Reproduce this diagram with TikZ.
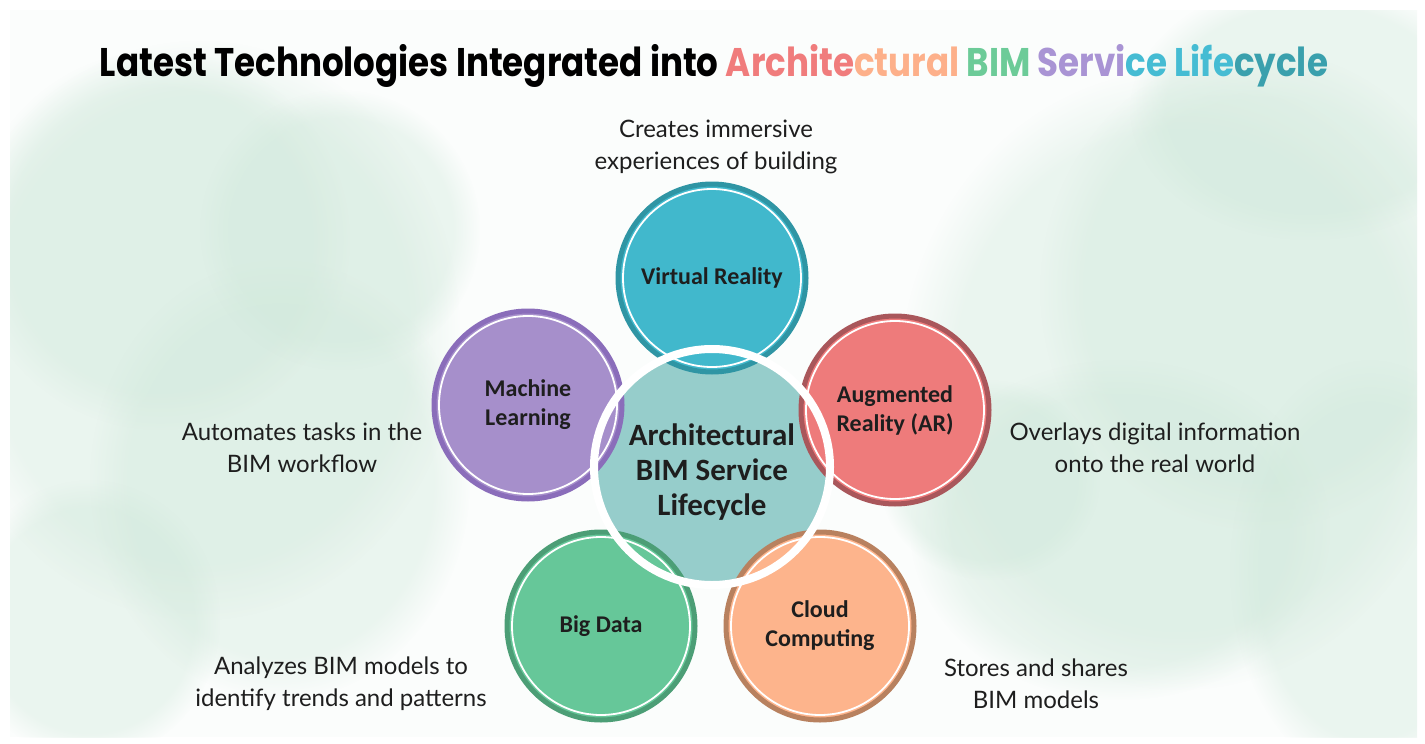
\documentclass[tikz,border=0pt]{standalone}
\usepackage{fontspec}
\usetikzlibrary{fadings}
\setmainfont{Lato}
\newfontfamily\titlefont{Poppins}
\newfontfamily\labelfont{Carlito}
\definecolor{bgbase}{HTML}{FBFDFC}
\definecolor{blob}{HTML}{CFE8DA}
\definecolor{vrfill}{HTML}{41B8CC}
\definecolor{vrrim}{HTML}{2F95A4}
\definecolor{mlfill}{HTML}{A68FCB}
\definecolor{mlrim}{HTML}{8A6DBA}
\definecolor{arfill}{HTML}{EE7B7B}
\definecolor{arrim}{HTML}{A9575B}
\definecolor{bdfill}{HTML}{66C799}
\definecolor{bdrim}{HTML}{4C9E76}
\definecolor{ccfill}{HTML}{FDB48C}
\definecolor{ccrim}{HTML}{B8815F}
\definecolor{corefill}{HTML}{96CDCB}
\definecolor{tred}{HTML}{F07C7C}
\definecolor{torange}{HTML}{FDB08A}
\definecolor{tgreen}{HTML}{6CCB98}
\definecolor{tpurple}{HTML}{A994D4}
\definecolor{tcyan}{HTML}{45BCD3}
\definecolor{tteal}{HTML}{3AA0AD}
\definecolor{txt}{HTML}{1E1E1E}
\tikzset{
  tech/.style={circle, minimum size=188pt, inner sep=0pt, line width=5pt, align=center,
    font=\labelfont\bfseries\fontsize{24}{29}\selectfont, text=txt},
  hilite/.style={draw=white, line width=1.8pt},
  core/.style={circle, minimum size=236pt, inner sep=0pt, draw=white, line width=8pt},
  corelabel/.style={align=center, font=\labelfont\bfseries\fontsize{31}{35}\selectfont, text=txt},
  desc/.style={align=center, font=\fontsize{24}{32}\selectfont, text=txt},
  blobstyle/.style={fill=blob, opacity=0.38, path fading=circle with fuzzy edge 20 percent}
}
\begin{document}
\begin{tikzpicture}[x=1pt,y=-1pt]
\useasboundingbox (0,0) rectangle (1425,744);
\fill[white] (0,0) rectangle (1425,744);
\fill[bgbase] (10,10) rectangle (1417,737);
% watercolour wash
\begin{scope}
\clip (10,10) rectangle (1417,737);
\fill[blobstyle] (200,330) ellipse [x radius=260pt, y radius=290pt];
\fill[blobstyle] (160,240) ellipse [x radius=190pt, y radius=190pt];
\fill[blobstyle] (280,480) ellipse [x radius=190pt, y radius=220pt];
\fill[blobstyle] (90,620) ellipse [x radius=130pt, y radius=140pt];
\fill[blobstyle] (340,230) ellipse [x radius=140pt, y radius=140pt];
\fill[blobstyle] (1180,380) ellipse [x radius=280pt, y radius=310pt];
\fill[blobstyle] (1260,290) ellipse [x radius=220pt, y radius=240pt];
\fill[blobstyle] (1120,530) ellipse [x radius=210pt, y radius=170pt];
\fill[blobstyle] (1370,570) ellipse [x radius=140pt, y radius=210pt];
\fill[blobstyle] (1310,110) ellipse [x radius=180pt, y radius=130pt];
\fill[blobstyle] (990,480) ellipse [x radius=110pt, y radius=100pt];
\end{scope}
% title
\node[anchor=base, inner sep=0pt] (title) at (714,76) {\resizebox{1228pt}{32pt}{\titlefont\bfseries Latest Technologies Integrated into
  \textcolor{tred}{Archite}\textcolor{torange}{ctural} \textcolor{tgreen}{BIM} \textcolor{tpurple}{Servi}\textcolor{tcyan}{ce Life}\textcolor{tteal}{cycle}}};
% core fill
\fill[corefill] (712,467) circle [radius=118pt];
% technology circles
\node[tech, fill=vrfill, draw=vrrim] (vr) at (712,278) {Virtual Reality};
\draw[hilite] (vr.center) circle [radius=89pt];
\node[tech, fill=mlfill, draw=mlrim] (ml) at (528,405) {Machine\\Learning};
\draw[hilite] (ml.center) circle [radius=89pt];
\node[tech, fill=arfill, draw=arrim] (ar) at (895,410) {Augmented\\Reality (AR)};
\draw[hilite] (ar.center) circle [radius=89pt];
\node[tech, fill=bdfill, draw=bdrim] (bd) at (601,626) {Big Data};
\draw[hilite] (bd.center) circle [radius=89pt];
\node[tech, fill=ccfill, draw=ccrim] (cc) at (820,626) {Cloud\\Computing};
\draw[hilite] (cc.center) circle [radius=89pt];
% core ring and label
\node[core] (core) at (712,467) {};
\node[corelabel] (coretext) at (712,472) {Architectural\\BIM Service\\Lifecycle};
% descriptions
\node[desc] (dvr) at (716,147) {Creates immersive\\experiences of building};
\node[desc] (dml) at (302,448) {Automates tasks in the\\BIM workflow};
\node[desc] (dar) at (1155,448) {Overlays digital information\\onto the real world};
\node[desc] (dbd) at (341,684) {Analyzes BIM models to\\identify trends and patterns};
\node[desc] (dcc) at (1036,684) {Stores and shares\\BIM models};
\end{tikzpicture}
\end{document}
